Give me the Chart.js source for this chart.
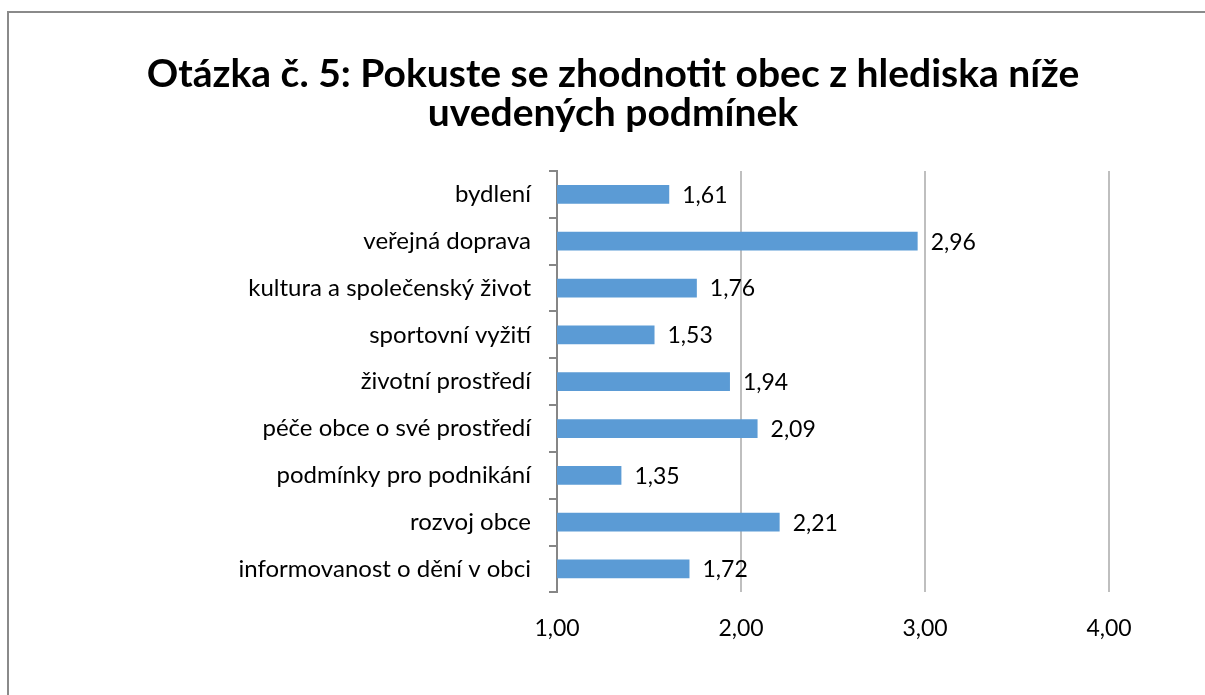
<!doctype html>
<html lang="cs">
  <head>
    <meta charset="utf-8">
    <title>Otázka č. 5</title>
    <style>
        * { margin: 0; padding: 0; box-sizing: border-box; }
        body { background: #fff; width: 1205px; height: 695px; overflow: hidden; position: relative; }
        #frame { position: absolute; left: 7px; top: 11px; width: 1300px; height: 700px;
                 border-left: 2px solid #8a8a8a; border-top: 2px solid #8a8a8a; }
        #wrap { position: absolute; left: 0; top: 0; width: 1205px; height: 695px; }
    </style>
    <script src="https://cdn.jsdelivr.net/npm/chart.js@4/dist/chart.umd.min.js"></script>
  </head>
  <body>
    <div id="frame"></div>
    <div id="wrap"><canvas id="barChart" width="1205" height="695"></canvas></div>

    <script>
      // data
      const kategorie = [
        "bydlení",
        "veřejná doprava",
        "kultura a společenský život",
        "sportovní vyžití",
        "životní prostředí",
        "péče obce o své prostředí",
        "podmínky pro podnikání",
        "rozvoj obce",
        "informovanost o dění v obci"
      ];
      const hodnoty = [1.61, 2.96, 1.76, 1.53, 1.94, 2.09, 1.35, 2.21, 1.72];
      const osaX = [1, 2, 3, 4];
      const nadpis = ["Otázka č. 5: Pokuste se zhodnotit obec z hlediska níže", "uvedených podmínek"];

      const FONT = "Lato";
      const cislo = v => Number(v).toFixed(2).replace('.', ',');

      // popisky hodnot vpravo od sloupce
      const popisky = {
        id: 'popisky',
        afterDatasetsDraw(chart) {
          const ctx = chart.ctx;
          const meta = chart.getDatasetMeta(0);
          ctx.save();
          ctx.font = "23px " + FONT;
          ctx.fillStyle = "#000";
          ctx.textAlign = "left";
          ctx.textBaseline = "middle";
          meta.data.forEach((bar, i) => {
            ctx.fillText(cislo(hodnoty[i]), bar.x + 13, bar.y + 1);
          });
          ctx.restore();
        }
      };

      const CHART = document.getElementById("barChart");
      let barChart = new Chart(CHART, {
        type: 'bar',
        data: {
          labels: kategorie,
          datasets: [{
            data: hodnoty,
            backgroundColor: "#5B9BD5",
            borderWidth: 0,
            barPercentage: 0.4,
            categoryPercentage: 1
          }]
        },
        options: {
          indexAxis: 'y',
          responsive: false,
          maintainAspectRatio: false,
          animation: false,
          devicePixelRatio: 1,
          layout: { padding: { left: 117, right: 96, top: 0, bottom: 31 } },
          plugins: {
            legend: { display: false },
            tooltip: { enabled: false },
            title: {
              display: true,
              text: nadpis,
              color: "#000",
              font: { family: FONT, size: 39, weight: 'bold', lineHeight: 1.0 },
              padding: { top: 55, bottom: 38 }
            }
          },
          scales: {
            x: {
              min: osaX[0],
              max: osaX[osaX.length - 1],
              afterBuildTicks: s => { s.ticks = osaX.map(v => ({ value: v })); },
              border: { display: false },
              grid: {
                drawTicks: false,
                color: c => (c.tick && c.tick.value === 1) ? 'rgba(0,0,0,0)' : '#BFBFBF',
                lineWidth: 2
              },
              ticks: {
                padding: 22,
                color: "#000",
                font: { family: FONT, size: 23 },
                callback: v => cislo(v),
                maxRotation: 0
              }
            },
            y: {
              afterFit: s => { s.width = 440; },
              border: { display: true, color: "#868686", width: 2 },
              grid: {
                drawOnChartArea: false,
                drawTicks: true,
                tickLength: 8,
                color: "#868686",
                lineWidth: 2
              },
              ticks: {
                padding: 18,
                color: "#000",
                font: { family: FONT, size: 24 }
              }
            }
          }
        },
        plugins: [popisky]
      });
    </script>
  </body>
</html>
